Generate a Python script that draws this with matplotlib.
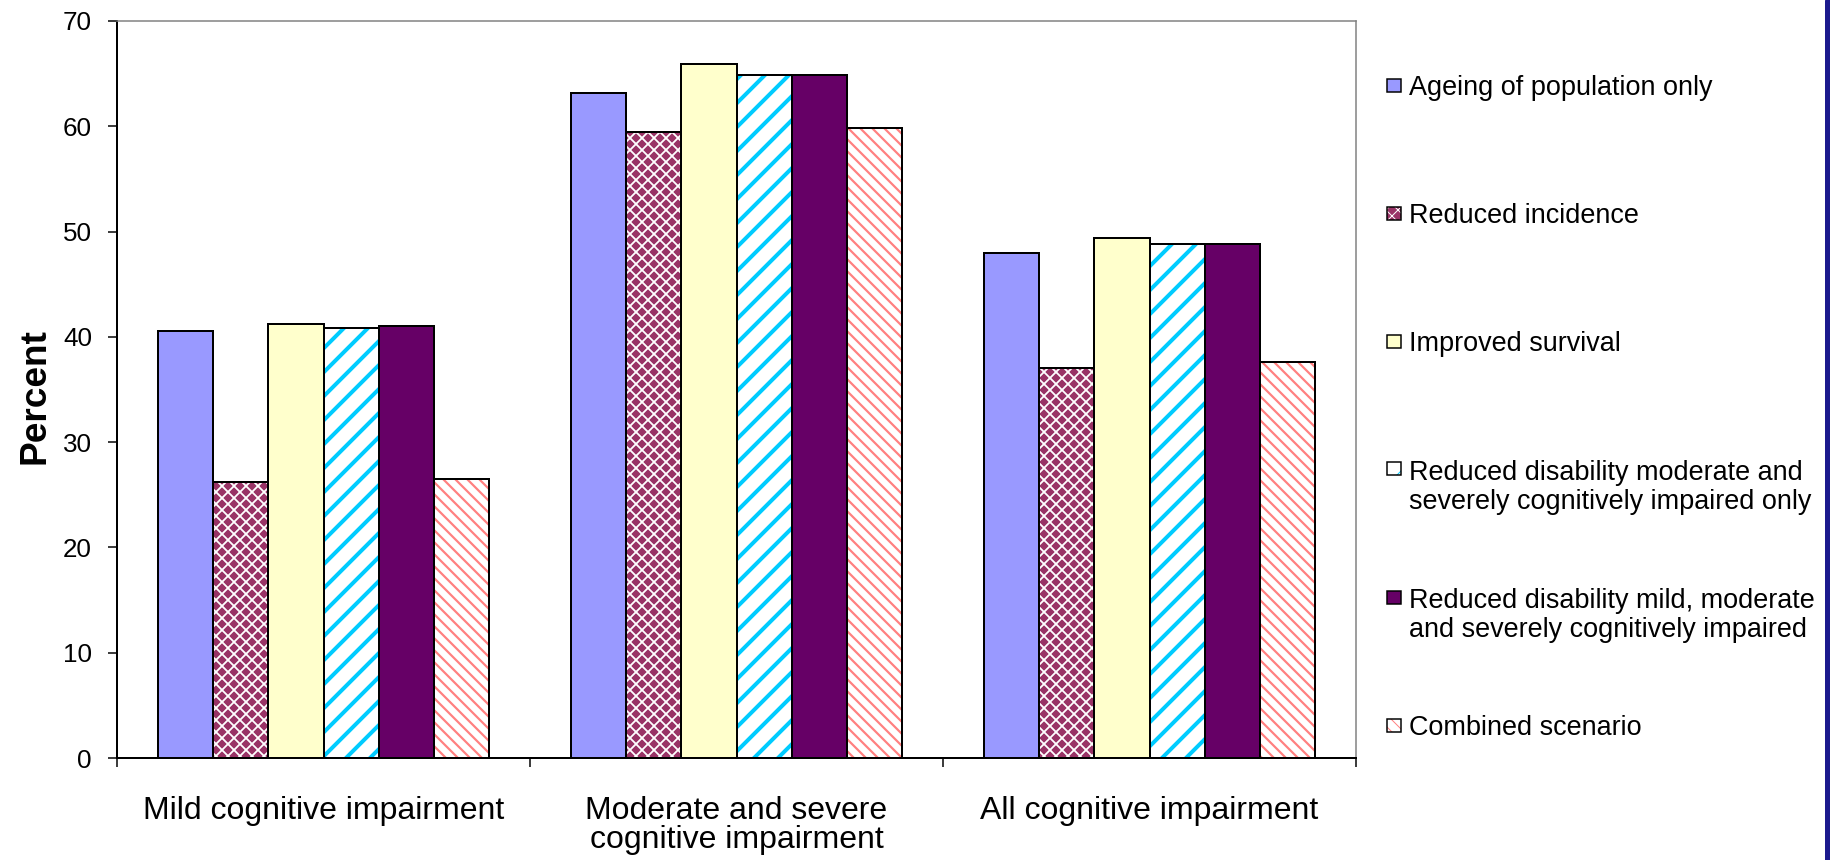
import numpy as np
import matplotlib
matplotlib.use("Agg")
import matplotlib.pyplot as plt
from matplotlib.patches import Rectangle

plt.rcParams['font.family'] = ['Liberation Sans', 'DejaVu Sans']

# data
categories = ["Mild cognitive impairment",
              "Moderate and severe\ncognitive impairment",
              "All cognitive impairment"]
series_names = ["Ageing of population only",
                "Reduced incidence",
                "Improved survival",
                "Reduced disability moderate and\nseverely cognitively impaired only",
                "Reduced disability mild, moderate\nand severely cognitively impaired",
                "Combined scenario"]
ageing = [40.6, 63.2, 48.0]
incidence = [26.2, 59.5, 37.0]
survival = [41.2, 65.9, 49.4]
disab_modsev = [40.8, 64.9, 48.8]
disab_all = [41.0, 64.9, 48.8]
combined = [26.5, 59.8, 37.6]
y_ticks = [0, 10, 20, 30, 40, 50, 60, 70]

values = [ageing, incidence, survival, disab_modsev, disab_all, combined]
# (face, hatch colour, hatch, hatch linewidth)
styles = [("#9999FF", None, None, 0),
          ("#993366", "white", "xx", 1.8),
          ("#FFFFCC", None, None, 0),
          ("white", "#00CCFF", "/", 4.0),
          ("#660066", None, None, 0),
          ("white", "#FF8080", "\\\\", 2.2)]

W, H = 1830, 860
fig = plt.figure(figsize=(W / 72, H / 72), dpi=72)
ax = fig.add_axes([117 / W, 1 - 758 / H, (1356 - 117) / W, (758 - 21) / H])

x = np.arange(len(categories))
width = 1 / 7.5  # excel gap width 150%

for i, (vals, (face, hcol, hatch, hlw)) in enumerate(zip(values, styles)):
    pos = x + (i - 2.5) * width
    if hatch:
        bars = ax.bar(pos, vals, width, color=face, edgecolor=hcol, hatch=hatch,
                      linewidth=0, zorder=2)
        for b in bars:
            if hasattr(b, "set_hatch_linewidth"):
                b.set_hatch_linewidth(hlw)
    else:
        ax.bar(pos, vals, width, color=face, linewidth=0, zorder=2)
    ax.bar(pos, vals, width, fill=False, edgecolor="black", linewidth=2, zorder=3)

ax.set_xlim(-0.5, len(categories) - 0.5)
ax.set_ylim(0, 70)
ax.set_yticks(y_ticks)
ax.tick_params(axis="y", labelsize=26, length=9, width=1.5, pad=16)
ax.set_xticks(x)
ax.set_xticklabels(categories, fontsize=32, linespacing=0.96)
ax.tick_params(axis="x", length=0, pad=38)
ax.set_xticks(np.arange(len(categories) + 1) - 0.5, minor=True)
ax.tick_params(axis="x", which="minor", length=9, width=1.5)

for s in ["left", "bottom"]:
    ax.spines[s].set_color("black")
    ax.spines[s].set_linewidth(2)
for s in ["top", "right"]:
    ax.spines[s].set_color("#808080")
    ax.spines[s].set_linewidth(1.5)

fig.text(35 / W, 1 - 396 / H, "Percent", rotation=90, fontsize=37,
         fontweight="bold", ha="center", va="center")

# legend drawn by hand so the box sits on the first line of each entry
line_px = 29
for i, (name, (face, hcol, hatch, hlw)) in enumerate(zip(series_names, styles)):
    yc = 1 - (85 + 128 * i) / H
    kw = dict(transform=fig.transFigure)
    if hatch:
        m = Rectangle((1387 / W, yc - 6.5 / H), 14 / W, 13 / H, facecolor=face,
                      edgecolor=hcol, hatch=hatch, linewidth=0, **kw)
        fig.patches.append(m)
    else:
        fig.patches.append(Rectangle((1387 / W, yc - 6.5 / H), 14 / W, 13 / H,
                                     facecolor=face, linewidth=0, **kw))
    fig.patches.append(Rectangle((1387 / W, yc - 6.5 / H), 14 / W, 13 / H,
                                 fill=False, edgecolor="black", linewidth=1.5, **kw))
    nlines = name.count("\n") + 1
    ty = yc - (nlines - 1) * line_px / 2 / H
    fig.text(1409 / W, ty, name, fontsize=27, ha="left", va="center_baseline",
             linespacing=1.14)

# dark strip on the right edge
fig.patches.append(Rectangle((1825 / W, 0), 5 / W, 1, transform=fig.transFigure,
                             color="#1c1a8e"))

fig.savefig("out.png", dpi=72)
